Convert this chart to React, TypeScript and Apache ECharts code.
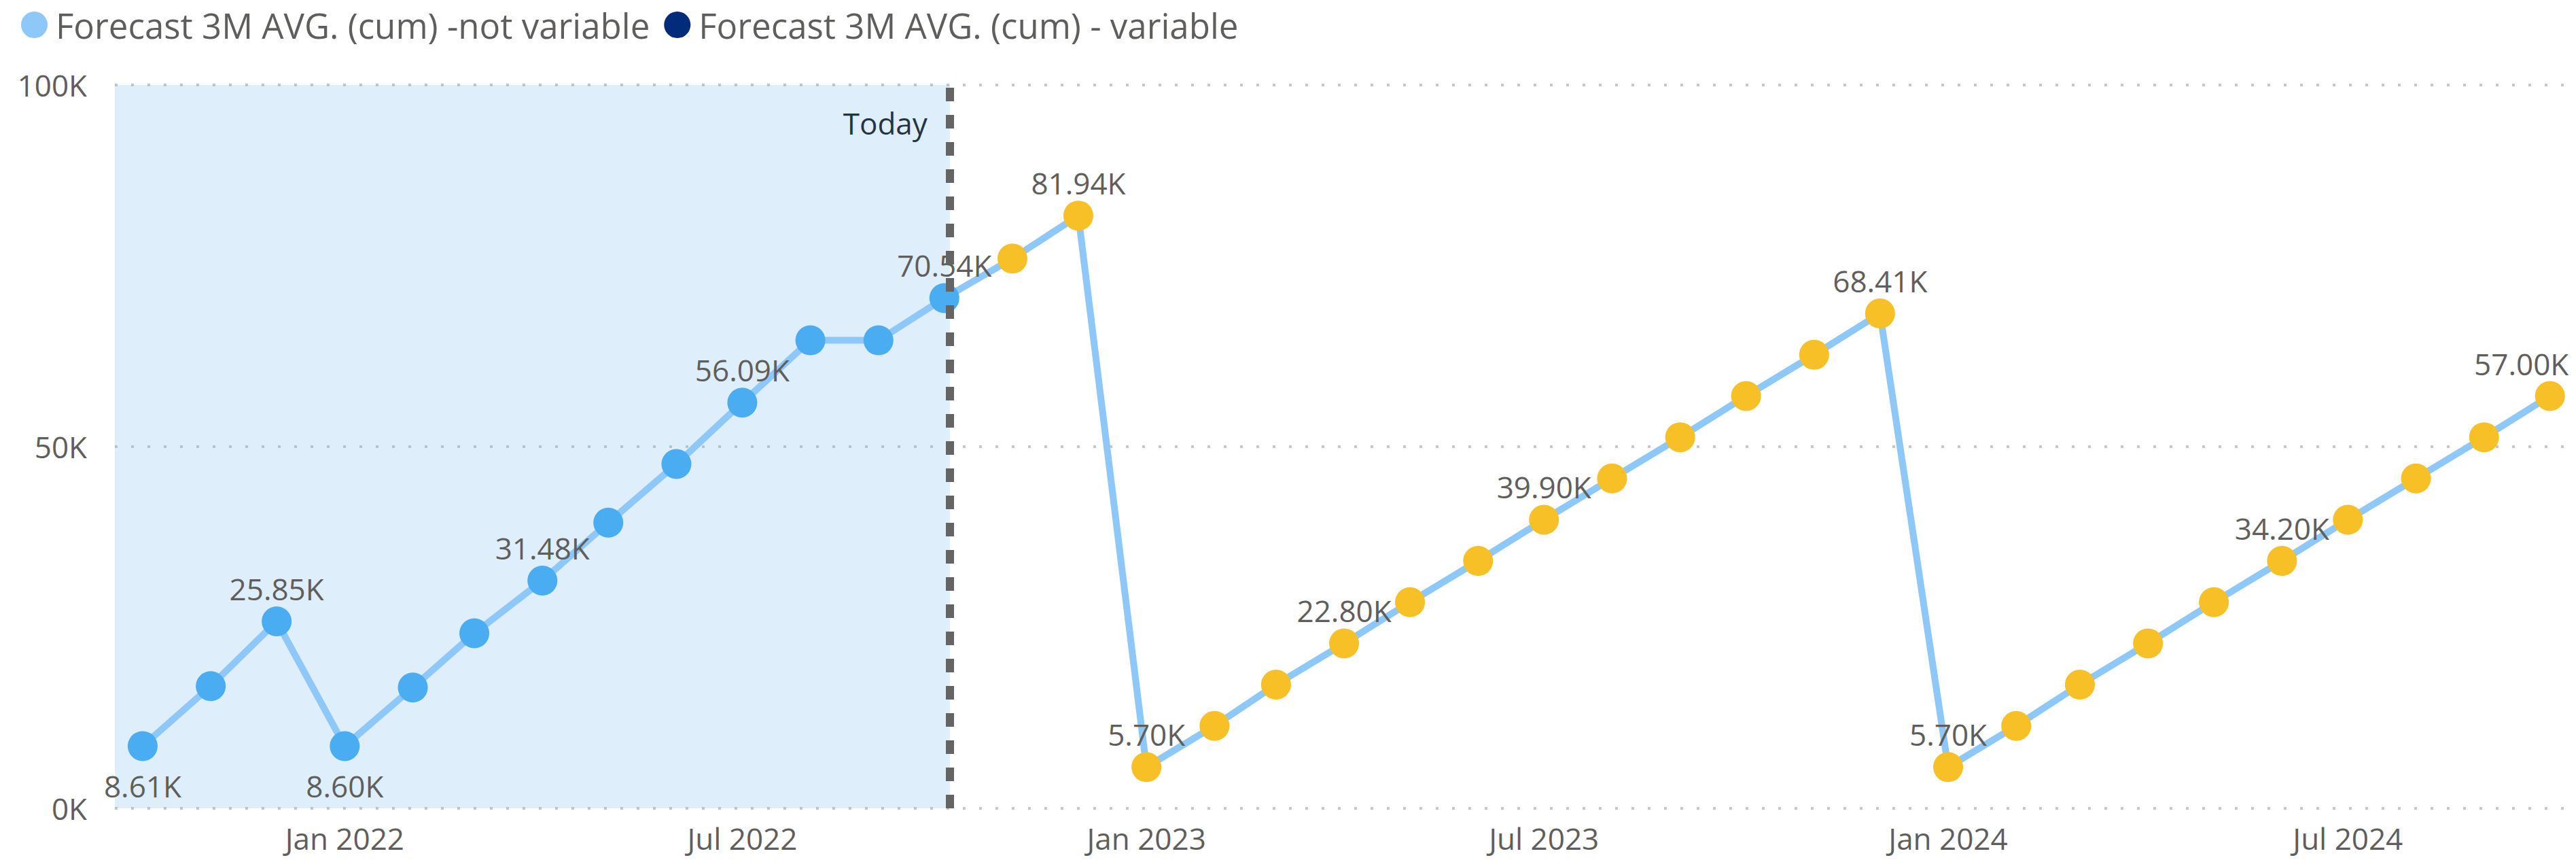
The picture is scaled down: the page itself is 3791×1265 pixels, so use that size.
import React, { useEffect, useRef } from 'react';
import * as echarts from 'echarts';

const SERIES_NAME = 'Forecast 3M AVG. (cum) -not variable';
const SERIES_NAME_2 = 'Forecast 3M AVG. (cum) - variable';

const MONTHS = [
  '2021-10-01', '2021-11-01', '2021-12-01',
  '2022-01-01', '2022-02-01', '2022-03-01', '2022-04-01', '2022-05-01', '2022-06-01',
  '2022-07-01', '2022-08-01', '2022-09-01', '2022-10-01', '2022-11-01', '2022-12-01',
  '2023-01-01', '2023-02-01', '2023-03-01', '2023-04-01', '2023-05-01', '2023-06-01',
  '2023-07-01', '2023-08-01', '2023-09-01', '2023-10-01', '2023-11-01', '2023-12-01',
  '2024-01-01', '2024-02-01', '2024-03-01', '2024-04-01', '2024-05-01', '2024-06-01',
  '2024-07-01', '2024-08-01', '2024-09-01', '2024-10-01',
];

const VALUES = [
  8610, 16900, 25850,
  8600, 16700, 24200, 31480, 39500, 47600,
  56090, 64700, 64700, 70540, 76000, 81940,
  5700, 11400, 17100, 22800, 28500, 34200,
  39900, 45600, 51300, 57000, 62700, 68410,
  5700, 11400, 17100, 22800, 28500, 34200,
  39900, 45600, 51300, 57000,
];

// last month with actual (blue) markers; later months are forecast (yellow)
const LAST_ACTUAL = '2022-10-01';
const TODAY = '2022-10-03T12:00:00';

const LABELED = [
  '2021-10-01', '2021-12-01', '2022-01-01', '2022-04-01', '2022-07-01', '2022-10-01',
  '2022-12-01', '2023-01-01', '2023-04-01', '2023-07-01', '2023-12-01', '2024-01-01',
  '2024-06-01', '2024-10-01',
];
const LABEL_BELOW = ['2021-10-01', '2022-01-01'];
const LABEL_SHIFT_LEFT = ['2024-10-01'];

const X_MIN = '2021-09-18T08:00:00';
const X_MAX = '2024-10-11T00:00:00';
const X_TICKS = ['2022-01-01', '2022-07-01', '2023-01-01', '2023-07-01', '2024-01-01', '2024-07-01'];
const MONTH_NAMES = ['Jan', 'Feb', 'Mar', 'Apr', 'May', 'Jun', 'Jul', 'Aug', 'Sep', 'Oct', 'Nov', 'Dec'];

const Y_MIN = 0;
const Y_MAX = 100000;
const Y_INTERVAL = 50000;

const FONT = "'Open Sans', 'Noto Sans', sans-serif";
const TEXT_GRAY = '#605E5C';
const LINE_COLOR = '#8DC8F8';
const ACTUAL_COLOR = '#4AADF2';
const FORECAST_COLOR = '#F6C026';
const VARIABLE_COLOR = '#022B7A';

function toTs(s: string): number {
  const [datePart, timePart] = s.split('T');
  const [y, m, d] = datePart.split('-').map(Number);
  let hh = 0, mm = 0;
  if (timePart) {
    const t = timePart.split(':').map(Number);
    hh = t[0];
    mm = t[1];
  }
  return new Date(y, m - 1, d, hh, mm).getTime();
}

export default function App() {
  const ref = useRef<HTMLDivElement>(null);

  useEffect(() => {
    document.body.style.margin = '0';
    if (!ref.current) return;
    const chart = echarts.init(ref.current, undefined, { renderer: 'svg' });
    const lastActualTs = toTs(LAST_ACTUAL);
    const todayTs = toTs(TODAY);
    const xMin = toTs(X_MIN);
    const xMax = toTs(X_MAX);

    const data = MONTHS.map((m, i) => {
      const ts = toTs(m);
      const labeled = LABELED.includes(m);
      const below = LABEL_BELOW.includes(m);
      return {
        value: [ts, VALUES[i]],
        itemStyle: { color: ts <= lastActualTs ? ACTUAL_COLOR : FORECAST_COLOR },
        label: labeled
          ? {
              show: true,
              position: below ? 'bottom' : 'top',
              distance: below ? 15 : 4,
              offset: LABEL_SHIFT_LEFT.includes(m) ? [-42, 0] : [0, 0],
            }
          : { show: false },
      };
    });

    chart.setOption({
      animation: false,
      textStyle: { fontFamily: FONT },
      legend: {
        data: [
          { name: SERIES_NAME, itemStyle: { color: LINE_COLOR } },
          { name: SERIES_NAME_2, itemStyle: { color: VARIABLE_COLOR } },
        ],
        icon: 'circle',
        left: 26,
        top: 6,
        itemWidth: 39,
        itemHeight: 39,
        itemGap: 21,
        textStyle: { fontSize: 51, color: TEXT_GRAY, fontFamily: FONT, padding: [0, 0, 0, 7] },
        selectedMode: false,
      },
      grid: { left: 169, right: 6, top: 125, bottom: 76, containLabel: false },
      xAxis: {
        type: 'value',
        min: xMin,
        max: xMax,
        axisLine: { show: false },
        axisTick: { show: false },
        splitLine: { show: false },
        axisLabel: {
          customValues: X_TICKS.map(toTs),
          formatter: (v: number) => {
            const d = new Date(v);
            return `${MONTH_NAMES[d.getMonth()]} ${d.getFullYear()}`;
          },
          fontSize: 44,
          color: TEXT_GRAY,
          fontFamily: FONT,
          margin: 22,
          hideOverlap: false,
          showMinLabel: true,
          showMaxLabel: true,
        },
      },
      yAxis: {
        type: 'value',
        min: Y_MIN,
        max: Y_MAX,
        interval: Y_INTERVAL,
        axisLine: { show: false },
        axisTick: { show: false },
        axisLabel: {
          formatter: (v: number) => `${v / 1000}K`,
          fontSize: 44,
          color: TEXT_GRAY,
          fontFamily: FONT,
          margin: 41,
        },
        splitLine: { lineStyle: { color: '#C6C6C6', width: 4, type: [4, 20] } },
      },
      series: [
        {
          name: '__today',
          type: 'line',
          data: [],
          z: 1,
          silent: true,
          markLine: {
            silent: true,
            symbol: ['none', 'none'],
            label: { show: false },
            lineStyle: { color: '#646464', width: 12, type: [20, 20] },
            data: [{ xAxis: todayTs }],
          },
        },
        {
          name: '__shade',
          type: 'line',
          data: [],
          z: 2,
          silent: true,
          markArea: {
            silent: true,
            itemStyle: { color: 'rgba(134,193,240,0.27)' },
            data: [[{ xAxis: xMin }, { xAxis: todayTs }]],
          },
        },
        {
          name: SERIES_NAME,
          type: 'line',
          z: 3,
          data,
          symbol: 'circle',
          symbolSize: 44,
          showAllSymbol: true,
          lineStyle: { color: LINE_COLOR, width: 10 },
          itemStyle: { color: LINE_COLOR },
          label: {
            fontSize: 44,
            color: TEXT_GRAY,
            fontFamily: FONT,
            formatter: (p: any) => `${(p.value[1] / 1000).toFixed(2)}K`,
          },
        },
        {
          name: SERIES_NAME_2,
          type: 'line',
          data: [],
          itemStyle: { color: VARIABLE_COLOR },
        },
      ],
    });

    const px = chart.convertToPixel({ xAxisIndex: 0 }, todayTs) as number;
    const py = chart.convertToPixel({ yAxisIndex: 0 }, Y_MAX) as number;
    chart.setOption({
      graphic: [
        {
          type: 'text',
          x: px - 33,
          y: py + 56,
          silent: true,
          style: {
            text: 'Today',
            fill: '#000000',
            font: `44px ${FONT}`,
            textAlign: 'right',
            textVerticalAlign: 'middle',
          },
        },
      ],
    });

    return () => chart.dispose();
  }, []);

  return <div ref={ref} style={{ width: '3791px', height: '1265px' }} />;
}
